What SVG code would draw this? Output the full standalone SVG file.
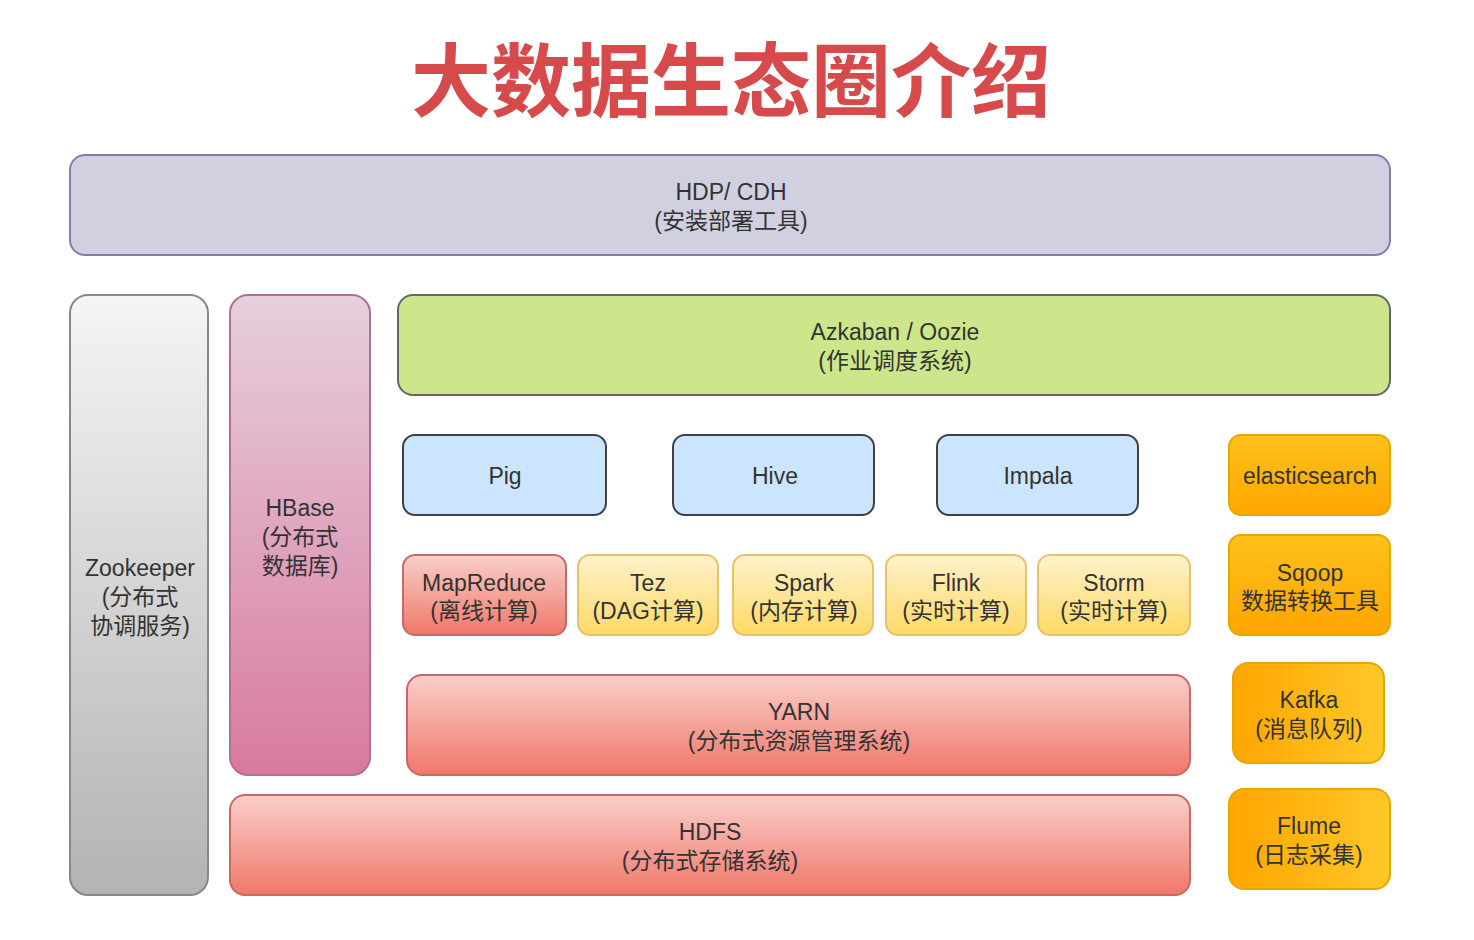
<svg xmlns="http://www.w3.org/2000/svg" width="1474" height="940" viewBox="0 0 1474 940">
<defs>
<linearGradient id="gGray" x1="0" y1="0" x2="0" y2="1"><stop offset="0" stop-color="#f5f5f5"/><stop offset="1" stop-color="#b3b3b3"/></linearGradient>
<linearGradient id="gPink" x1="0" y1="0" x2="0" y2="1"><stop offset="0" stop-color="#e6d0de"/><stop offset="1" stop-color="#d87a9e"/></linearGradient>
<linearGradient id="gRed" x1="0" y1="0" x2="0" y2="1"><stop offset="0" stop-color="#f9cfc9"/><stop offset="1" stop-color="#f0776a"/></linearGradient>
<linearGradient id="gYel" x1="0" y1="0" x2="0" y2="1"><stop offset="0" stop-color="#fff2cc"/><stop offset="1" stop-color="#ffd966"/></linearGradient>
<linearGradient id="gOrV" x1="0" y1="0" x2="0" y2="1"><stop offset="0" stop-color="#ffc21a"/><stop offset="1" stop-color="#ffa500"/></linearGradient>
<linearGradient id="gOrH" x1="0" y1="0" x2="1" y2="0"><stop offset="0" stop-color="#ffa500"/><stop offset="1" stop-color="#ffc828"/></linearGradient>
</defs>
<style>
text{font-family:"Liberation Sans","Noto Sans CJK SC",sans-serif;font-size:23px;fill:#333;text-anchor:middle}
.title{font-family:"Noto Sans CJK SC",sans-serif;font-size:80px;font-weight:bold;fill:#d64a4b}
.hdp{fill:#d0d0e1;stroke:#7e7ea8;stroke-width:2}
.zk{fill:url(#gGray);stroke:#888;stroke-width:2}
.hb{fill:url(#gPink);stroke:#b07090;stroke-width:2}
.az{fill:#cde68b;stroke:#666;stroke-width:2}
.bl{fill:#cce5ff;stroke:#3d4045;stroke-width:2}
.rd{fill:url(#gRed);stroke:#c86a63;stroke-width:2}
.yl{fill:url(#gYel);stroke:#e6c36a;stroke-width:2}
.ov{fill:url(#gOrV);stroke:#e6a800;stroke-width:2}
.oh{fill:url(#gOrH);stroke:#e6a800;stroke-width:2}
</style>
<rect width="1474" height="940" fill="#fff"/>
<text class="title" x="731" y="110">大数据生态圈介绍</text>
<g id="hdp"><rect class="hdp" x="70" y="155" width="1320" height="100" rx="15"/><text x="731" y="200">HDP/ CDH</text><text x="731" y="229">(安装部署工具)</text></g>
<g id="zookeeper"><rect class="zk" x="70" y="295" width="138" height="600" rx="18"/><text x="140" y="576">Zookeeper</text><text x="140" y="605">(分布式</text><text x="140" y="634">协调服务)</text></g>
<g id="hbase"><rect class="hb" x="230" y="295" width="140" height="480" rx="18"/><text x="300" y="516">HBase</text><text x="300" y="545">(分布式</text><text x="300" y="574">数据库)</text></g>
<g id="azkaban"><rect class="az" x="398" y="295" width="992" height="100" rx="15"/><text x="895" y="340">Azkaban / Oozie</text><text x="895" y="369">(作业调度系统)</text></g>
<g id="pig"><rect class="bl" x="403" y="435" width="203" height="80" rx="12"/><text x="505" y="484">Pig</text></g>
<g id="hive"><rect class="bl" x="673" y="435" width="201" height="80" rx="12"/><text x="775" y="484">Hive</text></g>
<g id="impala"><rect class="bl" x="937" y="435" width="201" height="80" rx="12"/><text x="1038" y="484">Impala</text></g>
<g id="elasticsearch"><rect class="ov" x="1229" y="435" width="161" height="80" rx="12"/><text x="1310" y="484">elasticsearch</text></g>
<g id="mapreduce"><rect class="rd" x="403" y="555" width="163" height="80" rx="12"/><text x="484" y="591">MapReduce</text><text x="484" y="619">(离线计算)</text></g>
<g id="tez"><rect class="yl" x="578" y="555" width="140" height="80" rx="12"/><text x="648" y="591">Tez</text><text x="648" y="619">(DAG计算)</text></g>
<g id="spark"><rect class="yl" x="733" y="555" width="140" height="80" rx="12"/><text x="804" y="591">Spark</text><text x="804" y="619">(内存计算)</text></g>
<g id="flink"><rect class="yl" x="886" y="555" width="140" height="80" rx="12"/><text x="956" y="591">Flink</text><text x="956" y="619">(实时计算)</text></g>
<g id="storm"><rect class="yl" x="1038" y="555" width="152" height="80" rx="12"/><text x="1114" y="591">Storm</text><text x="1114" y="619">(实时计算)</text></g>
<g id="sqoop"><rect class="ov" x="1229" y="535" width="161" height="100" rx="12"/><text x="1310" y="581">Sqoop</text><text x="1310" y="609">数据转换工具</text></g>
<g id="yarn"><rect class="rd" x="407" y="675" width="783" height="100" rx="15"/><text x="799" y="720">YARN</text><text x="799" y="749">(分布式资源管理系统)</text></g>
<g id="kafka"><rect class="oh" x="1233" y="663" width="151" height="100" rx="15"/><text x="1309" y="708">Kafka</text><text x="1309" y="737">(消息队列)</text></g>
<g id="hdfs"><rect class="rd" x="230" y="795" width="960" height="100" rx="15"/><text x="710" y="840">HDFS</text><text x="710" y="869">(分布式存储系统)</text></g>
<g id="flume"><rect class="oh" x="1229" y="789" width="161" height="100" rx="15"/><text x="1309" y="834">Flume</text><text x="1309" y="863">(日志采集)</text></g>
<g id="connectors"></g>
</svg>
